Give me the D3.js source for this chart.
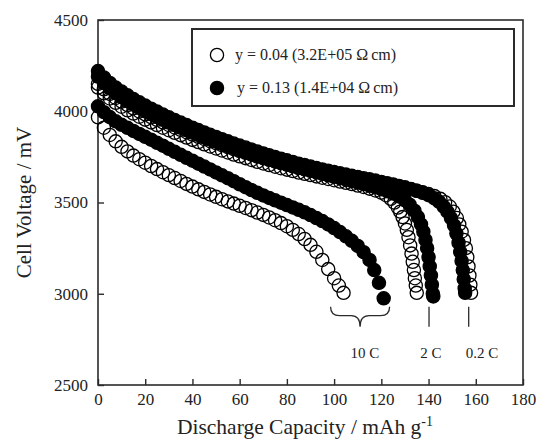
<!DOCTYPE html>
<html>
<head>
<meta charset="utf-8">
<script src="https://cdn.jsdelivr.net/npm/d3@7"></script>
<style>
  body { margin: 0; background: #fff; }
  svg { display: block; }
  svg text { font-family: 'Liberation Serif', 'Times New Roman', serif !important; }
</style>
</head>
<body>
<svg id="chart" width="539" height="439"></svg>
<script>
// capacity (mAh/g), voltage (mV)
const open10 = [[0,3967],[2.5,3910],[5,3870],[7.5,3835],[10,3805],[12.5,3780],[15,3757],[17.5,3737],[20,3718],[22.5,3700],[25,3683],[27.5,3666],[30,3650],[32.5,3634],[35,3618],[37.5,3602],[40,3587],[42.5,3572],[45,3558],[47.5,3544],[50,3531],[52.5,3518],[55,3506],[57.5,3494],[60,3482],[62.5,3470],[65,3458],[67.5,3445],[70,3432],[72.5,3418],[75,3403],[77.5,3387],[80,3370],[82.5,3350],[85,3327],[87.5,3300],[90,3268],[92.5,3230],[95,3185],[97.5,3135],[100,3085],[102,3045],[104,3005]];
const filled10 = [[0,4027],[2.5,3995],[5,3968],[7.5,3945],[10,3926],[12.5,3909],[15,3892],[17.5,3876],[20,3860],[22.5,3844],[25,3827],[27.5,3811],[30,3794],[32.5,3778],[35,3761],[37.5,3745],[40,3729],[42.5,3713],[45,3697],[47.5,3681],[50,3665],[52.5,3649],[55,3633],[57.5,3617],[60,3600],[62.5,3584],[65,3568],[67.5,3553],[70,3539],[72.5,3525],[75,3512],[77.5,3499],[80,3486],[82.5,3473],[85,3460],[87.5,3446],[90,3431],[92.5,3415],[95,3398],[97.5,3380],[100,3360],[102.5,3338],[105,3315],[107.5,3290],[110,3262],[112.5,3228],[115,3185],[117,3130],[119,3060],[121,2975]];
const open02 = [[0,4150],[2.5,4120],[5,4095],[7.5,4073],[10,4053],[12.5,4034],[15,4016],[17.5,3999],[20,3983],[22.5,3968],[25,3953],[27.5,3939],[30,3925],[32.5,3911],[35,3898],[37.5,3885],[40,3872],[42.5,3860],[45,3848],[47.5,3836],[50,3825],[52.5,3814],[55,3803],[57.5,3792],[60,3782],[62.5,3772],[65,3762],[67.5,3752],[70,3743],[72.5,3734],[75,3725],[77.5,3717],[80,3709],[82.5,3701],[85,3693],[87.5,3686],[90,3679],[92.5,3672],[95,3665],[97.5,3658],[100,3652],[102.5,3646],[105,3640],[107.5,3634],[110,3628],[112.5,3622],[115,3616],[117.5,3610],[120,3604],[122.5,3598],[125,3592],[127.5,3586],[130,3579],[132.5,3572],[135,3564],[137.5,3556],[140,3546],[142.5,3535],[145,3520],[147,3502],[149,3478],[150.5,3450],[152,3415],[153,3380],[154,3340],[155,3295],[155.8,3250],[156.4,3200],[156.9,3150],[157.3,3100],[157.7,3050],[158,3005]];
const filled02 = [[0,4220],[2.5,4185],[5,4155],[7.5,4130],[10,4108],[12.5,4087],[15,4067],[17.5,4049],[20,4031],[22.5,4014],[25,3998],[27.5,3982],[30,3967],[32.5,3952],[35,3938],[37.5,3924],[40,3910],[42.5,3897],[45,3884],[47.5,3871],[50,3859],[52.5,3847],[55,3835],[57.5,3823],[60,3812],[62.5,3801],[65,3790],[67.5,3779],[70,3769],[72.5,3759],[75,3749],[77.5,3740],[80,3731],[82.5,3722],[85,3713],[87.5,3705],[90,3697],[92.5,3689],[95,3681],[97.5,3674],[100,3667],[102.5,3660],[105,3653],[107.5,3646],[110,3640],[112.5,3633],[115,3627],[117.5,3620],[120,3613],[122.5,3606],[125,3599],[127.5,3591],[130,3583],[132.5,3574],[135,3564],[137.5,3553],[140,3540],[142.5,3523],[144.5,3503],[146.5,3476],[148,3450],[149.5,3415],[150.8,3375],[151.8,3330],[152.7,3280],[153.4,3230],[154,3180],[154.5,3130],[154.9,3080],[155.3,3030],[155.5,3005]];
const open2 = [[0,4130],[2.5,4098],[5,4070],[7.5,4046],[10,4025],[12.5,4005],[15,3987],[17.5,3970],[20,3954],[22.5,3939],[25,3924],[27.5,3910],[30,3896],[32.5,3882],[35,3869],[37.5,3856],[40,3843],[42.5,3831],[45,3819],[47.5,3807],[50,3796],[52.5,3785],[55,3774],[57.5,3763],[60,3753],[62.5,3743],[65,3733],[67.5,3723],[70,3714],[72.5,3705],[75,3696],[77.5,3688],[80,3680],[82.5,3672],[85,3664],[87.5,3657],[90,3650],[92.5,3643],[95,3636],[97.5,3629],[100,3622],[102.5,3615],[105,3608],[107.5,3601],[110,3593],[112.5,3585],[115,3576],[117.5,3566],[120,3554],[122,3540],[124,3520],[125.5,3500],[127,3472],[128,3450],[129,3420],[130,3385],[130.8,3350],[131.5,3310],[132.2,3265],[132.8,3220],[133.3,3175],[133.8,3130],[134.2,3085],[134.6,3045],[135,3005]];
const filled2 = [[0,4190],[2.5,4155],[5,4125],[7.5,4100],[10,4077],[12.5,4056],[15,4036],[17.5,4018],[20,4000],[22.5,3984],[25,3968],[27.5,3953],[30,3938],[32.5,3924],[35,3910],[37.5,3896],[40,3883],[42.5,3870],[45,3857],[47.5,3845],[50,3833],[52.5,3821],[55,3809],[57.5,3798],[60,3787],[62.5,3776],[65,3765],[67.5,3755],[70,3745],[72.5,3735],[75,3725],[77.5,3716],[80,3707],[82.5,3698],[85,3689],[87.5,3681],[90,3673],[92.5,3665],[95,3657],[97.5,3649],[100,3641],[102.5,3633],[105,3625],[107.5,3617],[110,3609],[112.5,3601],[115,3592],[117.5,3583],[120,3573],[122.5,3562],[125,3549],[127.5,3533],[130,3512],[132,3488],[134,3455],[135.5,3420],[136.8,3380],[137.8,3340],[138.7,3295],[139.4,3250],[140,3200],[140.5,3150],[141,3100],[141.4,3050],[141.8,3000],[142,2985]];

const xTicks = [0, 20, 40, 60, 80, 100, 120, 140, 160, 180];
const yTicks = [2500, 3000, 3500, 4000, 4500];
const legendLabels = ['y = 0.04 (3.2E+05 \u03A9\u2009cm)', 'y = 0.13 (1.4E+04 \u03A9\u2009cm)'];
const rateLabels = ['10 C', '2 C', '0.2 C'];

const svg = d3.select('#chart');
const margin = { left: 98, right: 16, top: 20, bottom: 54 };
const W = 539, H = 439;

const x = d3.scaleLinear().domain([0, 180]).range([margin.left, W - margin.right]);
const y = d3.scaleLinear().domain([2500, 4500]).range([H - margin.bottom, margin.top]);

const ink = '#2b2b2b';
const serif = "'Liberation Serif', 'Times New Roman', serif";

// axes with inward ticks
const xAxis = svg.append('g')
  .attr('transform', `translate(0,${y(2500)})`)
  .call(d3.axisBottom(x).tickValues(xTicks).tickFormat(d3.format('d')).tickSize(-6).tickSizeOuter(0).tickPadding(8));
const yAxis = svg.append('g')
  .attr('transform', `translate(${x(0)},0)`)
  .call(d3.axisLeft(y).tickValues(yTicks).tickFormat(d3.format('d')).tickSize(-6).tickSizeOuter(0).tickPadding(10));
[xAxis, yAxis].forEach(g => {
  g.attr('font-family', serif);
  g.select('.domain').remove();
  g.selectAll('line').attr('stroke', ink).attr('stroke-width', 1.4);
  g.selectAll('text').style('font-family', serif).attr('font-size', 17).attr('fill', '#222');
});

svg.append('rect')
  .attr('x', x(0)).attr('y', y(4500))
  .attr('width', x(180) - x(0)).attr('height', y(2500) - y(4500))
  .attr('fill', 'none').attr('stroke', ink).attr('stroke-width', 1.6);

// axis titles
svg.append('text')
  .attr('transform', `translate(31,${(y(2500) + y(4500)) / 2}) rotate(-90)`)
  .attr('text-anchor', 'middle').attr('font-size', 21).attr('fill', '#222')
  .text('Cell Voltage / mV');
const xt = svg.append('text')
  .attr('x', 305).attr('y', 434)
  .attr('text-anchor', 'middle').attr('font-size', 21.5).attr('fill', '#222');
xt.append('tspan').text('Discharge Capacity / mAh g');
xt.append('tspan').attr('dy', -8).attr('font-size', 14).text('-1');

// data points
const r = 6.6;
const series = [
  { data: filled10, filled: true },
  { data: filled2, filled: true },
  { data: filled02, filled: true },
  { data: open10, filled: false },
  { data: open2, filled: false },
  { data: open02, filled: false },
];
const plot = svg.append('g');
series.forEach(s => {
  plot.append('g')
    .selectAll('circle')
    .data(s.data)
    .join('circle')
    .attr('cx', d => x(d[0]))
    .attr('cy', d => y(d[1]))
    .attr('r', r)
    .attr('fill', s.filled ? '#000' : 'none')
    .attr('stroke', '#000')
    .attr('stroke-width', 1.3);
});

// rate annotations
const yTop = y(2929), yBar = y(2880), yTip = y(2819), yLab = y(2650);
const bx0 = x(98.5), bx1 = x(123.5), bm = x(111);
svg.append('path')
  .attr('d', `M${bx0},${yTop} Q${bx0},${yBar} ${bx0 + 9},${yBar} L${bm - 9},${yBar} Q${bm},${yBar} ${bm},${yTip} Q${bm},${yBar} ${bm + 9},${yBar} L${bx1 - 9},${yBar} Q${bx1},${yBar} ${bx1},${yTop}`)
  .attr('fill', 'none').attr('stroke', ink).attr('stroke-width', 1.3);
[140.2, 157].forEach(v => {
  svg.append('line')
    .attr('x1', x(v)).attr('x2', x(v)).attr('y1', yTop).attr('y2', yTip)
    .attr('stroke', ink).attr('stroke-width', 1.3);
});
const labelPos = [113, 141, 162.6];
svg.append('g').selectAll('text')
  .data(rateLabels)
  .join('text')
  .attr('x', (d, i) => x(labelPos[i]))
  .attr('y', yLab)
  .attr('text-anchor', 'middle')
  .attr('font-size', 15)
  .attr('fill', '#222')
  .text(d => d);

// legend
const lg = svg.append('g');
lg.append('rect')
  .attr('x', 192).attr('y', 29).attr('width', 322).attr('height', 77)
  .attr('fill', '#fff').attr('stroke', ink).attr('stroke-width', 2);
[false, true].forEach((filled, i) => {
  const cy = 55 + i * 33;
  lg.append('circle')
    .attr('cx', 217).attr('cy', cy).attr('r', r)
    .attr('fill', filled ? '#000' : 'none').attr('stroke', '#000').attr('stroke-width', 1.3);
  lg.append('text')
    .attr('x', 235 + i * 2).attr('y', cy + 5)
    .attr('font-size', 16).attr('fill', '#222')
    .text(legendLabels[i]);
});
</script>
</body>
</html>
